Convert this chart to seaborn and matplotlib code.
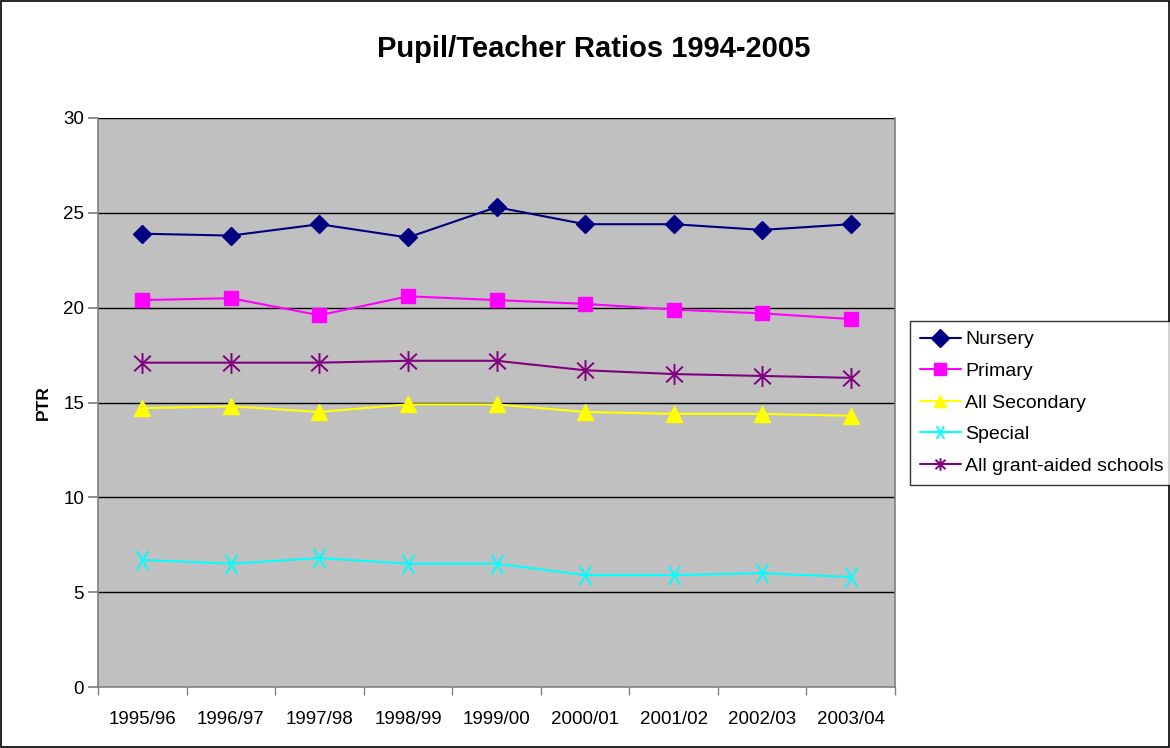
import matplotlib
matplotlib.use("Agg")
import matplotlib.pyplot as plt
import seaborn as sns
import pandas as pd
from matplotlib.patches import Rectangle
from matplotlib.path import Path
from matplotlib.ticker import MultipleLocator, FixedLocator, NullFormatter

years = ["1995/96", "1996/97", "1997/98", "1998/99", "1999/00",
         "2000/01", "2001/02", "2002/03", "2003/04"]
nursery = [23.9, 23.8, 24.4, 23.7, 25.3, 24.4, 24.4, 24.1, 24.4]
primary = [20.4, 20.5, 19.6, 20.6, 20.4, 20.2, 19.9, 19.7, 19.4]
secondary = [14.7, 14.8, 14.5, 14.9, 14.9, 14.5, 14.4, 14.4, 14.3]
special = [6.7, 6.5, 6.8, 6.5, 6.5, 5.9, 5.9, 6.0, 5.8]
all_grant = [17.1, 17.1, 17.1, 17.2, 17.2, 16.7, 16.5, 16.4, 16.3]

series_names = ["Nursery", "Primary", "All Secondary", "Special", "All grant-aided schools"]
series_values = [nursery, primary, secondary, special, all_grant]
colors = ["#000080", "#FF00FF", "#FFFF00", "#00FFFF", "#800080"]

M, L = Path.MOVETO, Path.LINETO
x_marker = Path([(-0.6, -1), (0.6, 1), (-0.6, 1), (0.6, -1)], [M, L, M, L])
star_marker = Path([(0, -1), (0, 1), (-0.8, -0.75), (0.8, 0.75), (-0.8, 0.75), (0.8, -0.75)],
                   [M, L, M, L, M, L])
markers = ["D", "s", "^", x_marker, star_marker]
msizes = [9.5, 10, 11, 14, 15]

sns.set_theme(style="white")
plt.rcParams["font.family"] = ["Liberation Sans", "DejaVu Sans"]
plt.rcParams["text.color"] = "black"
plt.rcParams["axes.labelcolor"] = "black"

fig = plt.figure(figsize=(11.7, 7.48), dpi=100)
fig.patch.set_facecolor("white")
ax = fig.add_axes([98 / 1170, 1 - 687 / 748, (895 - 98) / 1170, (687 - 118) / 748])
ax.set_facecolor("#C0C0C0")

handles = []
for name, vals, c, m, ms in zip(series_names, series_values, colors, markers, msizes):
    df = pd.DataFrame({"Year": list(range(len(years))), "PTR": vals})
    is_line_marker = isinstance(m, Path)
    sns.lineplot(data=df, x="Year", y="PTR", ax=ax, color=c, marker=m,
                 markersize=ms, markeredgecolor=c,
                 markerfacecolor="none" if is_line_marker else c,
                 markeredgewidth=1.4 if is_line_marker else 1,
                 linewidth=1.5, label=name, legend=False, zorder=3)
    handles.append(ax.lines[-1])

ax.set_xlim(-0.5, len(years) - 0.5)
ax.set_ylim(0, 30)
ax.yaxis.set_major_locator(MultipleLocator(5))
ax.set_xticks(range(len(years)))
ax.set_xticklabels(years)
ax.xaxis.set_minor_locator(FixedLocator([i - 0.5 for i in range(len(years) + 1)]))
ax.xaxis.set_minor_formatter(NullFormatter())
ax.tick_params(axis="x", which="major", length=0, pad=17, labelsize=13.5, labelcolor="black")
ax.tick_params(axis="x", which="minor", length=6, color="#808080", direction="out", bottom=True)
ax.tick_params(axis="y", which="major", length=7, color="#808080", direction="out", left=True,
               labelsize=13.5, pad=3, labelcolor="black")

for y in range(5, 31, 5):
    ax.axhline(y, color="black", linewidth=1, zorder=1)
for s in ["left", "bottom", "right"]:
    ax.spines[s].set_color("#808080")
    ax.spines[s].set_linewidth(1.2)
ax.spines["top"].set_visible(False)

ax.set_xlabel("")
ax.set_ylabel("PTR", fontsize=12.5, fontweight="bold", labelpad=9)

fig.text(594 / 1170, 1 - 49 / 748, "Pupil/Teacher Ratios 1994-2005", ha="center", va="center",
         fontsize=21, fontweight="bold")

leg = fig.legend(handles=handles, labels=series_names, loc="upper left",
                 bbox_to_anchor=(910 / 1170, 1 - 321 / 748), bbox_transform=fig.transFigure,
                 frameon=True, fancybox=False, fontsize=14, handlelength=2.1,
                 labelspacing=0.72, borderpad=0.5, handletextpad=0.25, borderaxespad=0)
leg.get_frame().set_edgecolor("black")
leg.get_frame().set_linewidth(1)
for h in leg.legend_handles:
    h.set_markersize(9)

fig.patches.append(Rectangle((0.001, 0.001), 0.998, 0.997, transform=fig.transFigure,
                             fill=False, edgecolor="black", linewidth=1.2))

fig.savefig("out.png", dpi=100)
